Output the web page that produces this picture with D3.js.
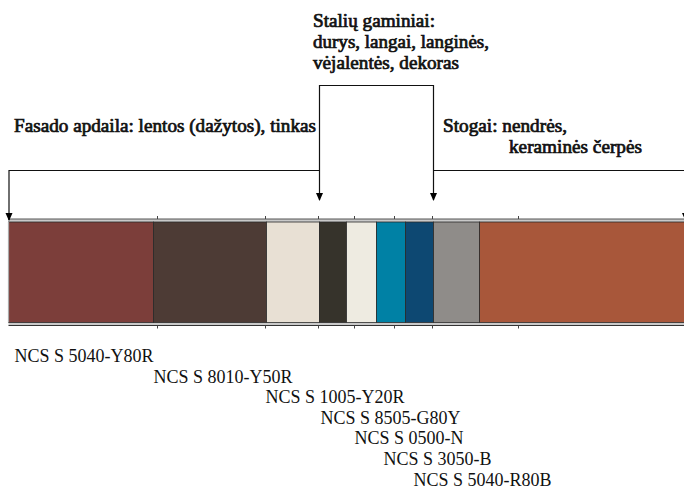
<!DOCTYPE html>
<html>
<head>
<meta charset="utf-8">
<script src="https://cdn.jsdelivr.net/npm/d3@7"></script>
<style>
  body { margin: 0; background: #fff; }
  text { font-family: "Liberation Serif", "Times New Roman", serif; fill: #111; }
</style>
</head>
<body>
<script>
// colour strip: widths of the swatches (relative), colours and NCS codes
var segWidths = [145, 113, 53, 27, 30, 29, 28, 46, 206];
var segColors = ["#7c3e3a", "#4d3b35", "#e8e0d4", "#36332b", "#eeebe1",
                 "#0081a5", "#0d4872", "#8f8c89", "#a8573a"];
var ncsLabels = ["NCS S 5040-Y80R", "NCS S 8010-Y50R", "NCS S 1005-Y20R",
                 "NCS S 8505-G80Y", "NCS S 0500-N", "NCS S 3050-B", "NCS S 5040-R80B"];
var rulerTicks = [149, 257, 310, 346, 386, 424, 510];

// annotations and the swatch boundaries they point to
var fasadoText = ["Fasado apdaila: lentos (dažytos), tinkas"];
var staliuText = ["Stalių gaminiai:", "durys, langai, langinės,", "vėjalentės, dekoras"];
var stogaiText = ["Stogai: nendrės,", "keraminės čerpės"];
var fasadoTarget = 0, staliuTargets = [3, 7], stogaiTarget = 9;

var W = 684, H = 488;
var barTop = 222, barBottom = 322.5;
var labelDx = [6, 0, -1, 1, 8, 7, 8];

var svg = d3.select("body").append("svg")
  .attr("width", W).attr("height", H);

// cumulative boundaries
var bounds = [0];
segWidths.forEach(function(w, i){ bounds.push(bounds[i] + w); });
var total = bounds[bounds.length - 1];

var x = d3.scaleLinear().domain([0, total]).range([8.5, 685.5]);

// ruler lines above and below the strip
svg.append("rect").attr("x", x(0)).attr("y", barTop - 3)
  .attr("width", x(total) - x(0)).attr("height", 3).attr("fill", "#c9c9c9");
svg.append("line").attr("x1", x(0)).attr("x2", W).attr("y1", barTop - 3).attr("y2", barTop - 3)
  .attr("stroke", "#555").attr("stroke-width", 1);
svg.append("rect").attr("x", x(0)).attr("y", barBottom)
  .attr("width", x(total) - x(0)).attr("height", 3).attr("fill", "#c9c9c9");
svg.append("line").attr("x1", x(0)).attr("x2", W).attr("y1", barBottom + 3).attr("y2", barBottom + 3)
  .attr("stroke", "#333").attr("stroke-width", 1);

svg.selectAll("line.tickTop").data(rulerTicks).enter().append("line")
  .attr("class", "tickTop")
  .attr("x1", function(d){ return x(d); }).attr("x2", function(d){ return x(d); })
  .attr("y1", barTop - 6).attr("y2", barTop - 3)
  .attr("stroke", "#444").attr("stroke-width", 1);
svg.selectAll("line.tickBot").data(rulerTicks).enter().append("line")
  .attr("class", "tickBot")
  .attr("x1", function(d){ return x(d); }).attr("x2", function(d){ return x(d); })
  .attr("y1", barBottom + 3).attr("y2", barBottom + 6)
  .attr("stroke", "#444").attr("stroke-width", 1);

// swatches
svg.selectAll("rect.seg").data(segWidths).enter().append("rect")
  .attr("class", "seg")
  .attr("x", function(d, i){ return x(bounds[i]); })
  .attr("y", barTop)
  .attr("width", function(d, i){ return x(bounds[i + 1]) - x(bounds[i]); })
  .attr("height", barBottom - barTop)
  .attr("fill", function(d, i){ return segColors[i]; })
  .attr("stroke", "#2a2a2a").attr("stroke-width", 0.8);
svg.append("line").attr("x1", x(0)).attr("x2", x(0)).attr("y1", barTop).attr("y2", barBottom)
  .attr("stroke", "#aaa").attr("stroke-width", 1.2);

// arrows
var head = function(px, tipY){
  svg.append("path")
    .attr("d", "M" + (px - 3.5) + "," + (tipY - 8) + "L" + (px + 3.5) + "," + (tipY - 8) + "L" + px + "," + tipY + "Z")
    .attr("fill", "#000");
};
var stroke = function(pts){
  svg.append("path").attr("d", d3.line()(pts))
    .attr("fill", "none").attr("stroke", "#111").attr("stroke-width", 1.2);
};

var hy = 170.5, boxTop = 85.5;
var sL = x(bounds[staliuTargets[0]]), sR = x(bounds[staliuTargets[1]]);
var fX = x(bounds[fasadoTarget]) + 0.5, gX = x(bounds[stogaiTarget]);

stroke([[sL, 200], [sL, boxTop], [sR, boxTop], [sR, 200]]);
head(sL, 201); head(sR, 201);
stroke([[sL, hy], [fX, hy], [fX, 220]]);
head(fX, 221);
stroke([[sR, hy], [gX, hy], [gX, 220]]);
head(gX, 221);

// annotation texts: serif face with a thin outline for weight,
// fitted to the width each line takes in the reference
var bold = function(lines, xs, widths, y0){
  svg.selectAll(null).data(lines).enter().append("text")
    .attr("x", function(d, i){ return xs[i]; })
    .attr("y", function(d, i){ return y0 + i * 21; })
    .attr("font-size", 18)
    .attr("stroke", "#111").attr("stroke-width", 0.7)
    .attr("textLength", function(d, i){ return widths[i]; })
    .attr("lengthAdjust", "spacingAndGlyphs")
    .text(function(d){ return d; });
};
bold(staliuText, [313, 313, 313], [122, 176, 146], 27);
bold(fasadoText, [14], [302], 131.5);
bold(stogaiText, [443, 509], [124, 133], 131.5);

// NCS codes under the strip
svg.selectAll("text.ncs").data(ncsLabels).enter().append("text")
  .attr("class", "ncs")
  .attr("x", function(d, i){ return x(bounds[i]) + labelDx[i]; })
  .attr("y", function(d, i){ return 362 + i * 20.6; })
  .attr("font-size", 18)
  .text(function(d){ return d; });
</script>
</body>
</html>
